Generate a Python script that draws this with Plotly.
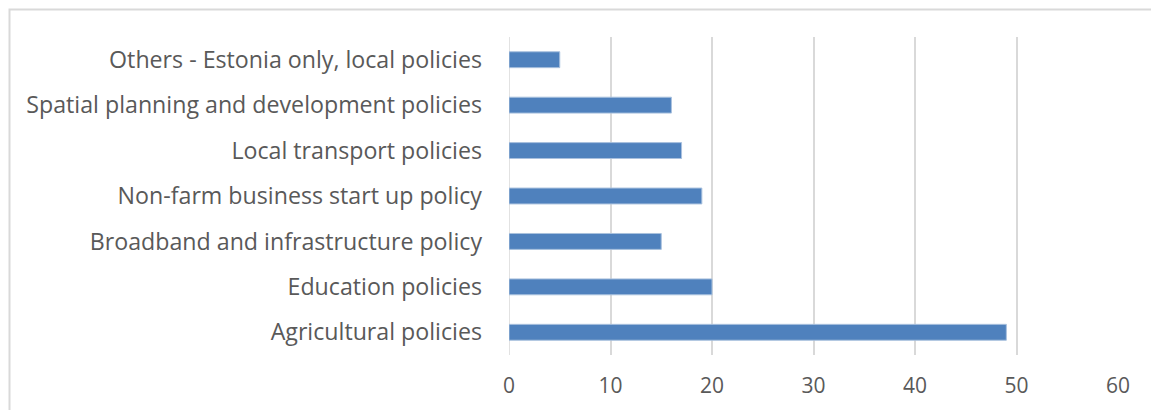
import plotly.graph_objects as go

categories = [
    "Agricultural policies",
    "Education policies",
    "Broadband and infrastructure policy",
    "Non-farm business start up policy",
    "Local transport policies",
    "Spatial planning and development policies",
    "Others - Estonia only, local policies",
]
values = [49, 20, 15, 19, 17, 16, 5]
x_ticks = [0, 10, 20, 30, 40, 50, 60]

W, H = 1151, 410
L, R, T, B = 509, 33, 37, 55
pw, ph = W - L - R, H - T - B

fig = go.Figure(
    go.Bar(
        x=values,
        y=categories,
        orientation="h",
        width=0.35,
        marker=dict(color="#4f81bd", line=dict(color="#a9c1de", width=1)),
    )
)

fig.update_layout(
    width=W,
    height=H,
    margin=dict(l=L, r=R, t=T, b=B, pad=0),
    paper_bgcolor="white",
    plot_bgcolor="white",
    showlegend=False,
    font=dict(family="Open Sans", color="#595959", size=20),
    xaxis=dict(
        range=[0, 60],
        tickvals=x_ticks,
        showgrid=True,
        gridcolor="#d9d9d9",
        gridwidth=1.5,
        zeroline=False,
        showline=False,
        ticks="",
        ticklabelstandoff=16,
        tickfont=dict(size=21, color="#595959"),
    ),
    yaxis=dict(
        categoryorder="array",
        categoryarray=categories,
        range=[-0.5, 6.5],
        showgrid=False,
        zeroline=False,
        showline=False,
        ticks="",
        ticklabelstandoff=26,
        tickfont=dict(size=23.2, color="#595959"),
    ),
    shapes=[
        dict(
            type="rect",
            xref="paper",
            yref="paper",
            x0=(9.5 - L) / pw,
            x1=(W + 20 - L) / pw,
            y0=-(B + 20) / ph,
            y1=1 + (T - 9.5) / ph,
            line=dict(color="#d9d9d9", width=2),
            fillcolor="rgba(0,0,0,0)",
            layer="below",
        ),
        dict(
            type="line",
            xref="x",
            yref="paper",
            x0=0,
            x1=0,
            y0=0,
            y1=1,
            line=dict(color="#d9d9d9", width=1.5),
            layer="below",
        ),
    ],
)

fig.write_html("out.html")
